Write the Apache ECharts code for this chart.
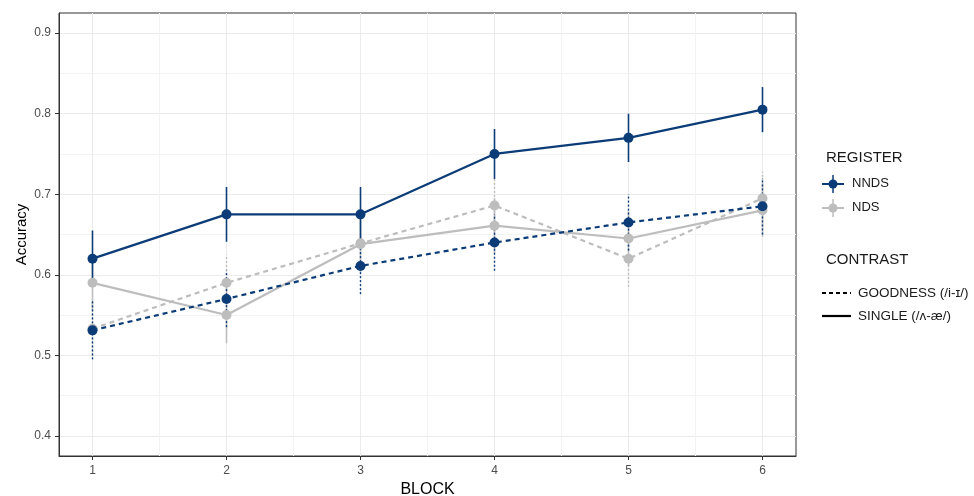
<!DOCTYPE html>
<html>
<head>
<meta charset="utf-8">
<script src="https://cdn.jsdelivr.net/npm/echarts@6/dist/echarts.min.js"></script>
<style>
html,body{margin:0;padding:0;background:#fff;}
#chart{width:974px;height:496px;}
</style>
</head>
<body>
<div id="chart"></div>
<script>
// ---- data ----
var blocks = [1, 2, 3, 4, 5, 6];
var xTicks = [1, 2, 3, 4, 5, 6];
var xMinor = [1.5, 2.5, 3.5, 4.5, 5.5];
var yTicks = [0.4, 0.5, 0.6, 0.7, 0.8, 0.9];
var yMinor = [0.45, 0.55, 0.65, 0.75, 0.85];

var nndsSingle      = [0.620, 0.675, 0.675, 0.750, 0.770, 0.805];
var nndsSingleErr   = [0.035, 0.034, 0.034, 0.031, 0.030, 0.028];
var nndsGoodness    = [0.531, 0.570, 0.611, 0.640, 0.665, 0.685];
var nndsGoodnessErr = [0.036, 0.035, 0.035, 0.035, 0.035, 0.035];
var ndsSingle       = [0.590, 0.550, 0.638, 0.661, 0.645, 0.680];
var ndsSingleErr    = [0.034, 0.035, 0.035, 0.034, 0.034, 0.033];
var ndsGoodness     = [0.533, 0.590, 0.639, 0.686, 0.620, 0.695];
var ndsGoodnessErr  = [0.034, 0.035, 0.035, 0.034, 0.035, 0.033];

var NAVY = '#0b3c78';
var GREY = '#bdbdbd';

function pts(vals) { return blocks.map(function (b, i) { return [b, vals[i]]; }); }

function errSeries(name, vals, errs, color, dotted) {
  return {
    type: 'custom', name: name, z: 2, silent: true,
    data: blocks.map(function (b, i) { return [b, vals[i] - errs[i], vals[i] + errs[i]]; }),
    encode: { x: 0, y: [1, 2] },
    renderItem: function (params, api) {
      var p1 = api.coord([api.value(0), api.value(1)]);
      var p2 = api.coord([api.value(0), api.value(2)]);
      return {
        type: 'line',
        shape: { x1: p1[0], y1: p1[1], x2: p2[0], y2: p2[1] },
        style: { stroke: color, lineWidth: dotted ? 1.4 : 1.6, lineDash: dotted ? [2, 2] : null }
      };
    }
  };
}

function lineSeries(name, vals, color, dashed) {
  return {
    type: 'line', name: name, data: pts(vals), z: 3,
    symbol: 'circle', symbolSize: 10, showSymbol: true,
    itemStyle: { color: color },
    lineStyle: { color: color, width: 2.2, type: dashed ? [5, 4] : 'solid' },
    emphasis: { disabled: true }
  };
}

var chart = echarts.init(document.getElementById('chart'), null, { renderer: 'canvas' });

var FONT = 'Liberation Sans, Arial, sans-serif';
var leg = [];
leg.push({ type: 'text', left: 826, top: 150, style: { text: 'REGISTER', font: '15px ' + FONT, fill: '#1a1a1a' } });
[[184, NAVY, 'NNDS'], [208, GREY, 'NDS']].forEach(function (r) {
  leg.push({ type: 'line', shape: { x1: 822, y1: r[0], x2: 844, y2: r[0] }, style: { stroke: r[1], lineWidth: 2 } });
  leg.push({ type: 'line', shape: { x1: 833, y1: r[0] - 9, x2: 833, y2: r[0] + 9 }, style: { stroke: r[1], lineWidth: 1.5 } });
  leg.push({ type: 'circle', shape: { cx: 833, cy: r[0], r: 4.5 }, style: { fill: r[1] } });
  leg.push({ type: 'text', left: 852, top: r[0] - 7, style: { text: r[2], font: '13px ' + FONT, fill: '#1a1a1a' } });
});
leg.push({ type: 'text', left: 826, top: 252, style: { text: 'CONTRAST', font: '15px ' + FONT, fill: '#1a1a1a' } });
leg.push({ type: 'line', shape: { x1: 822, y1: 293, x2: 851, y2: 293 }, style: { stroke: '#000', lineWidth: 2.2, lineDash: [4, 3] } });
leg.push({ type: 'text', left: 858, top: 286, style: { text: 'GOODNESS (/i-ɪ/)', font: '13.5px ' + FONT, fill: '#1a1a1a' } });
leg.push({ type: 'line', shape: { x1: 822, y1: 316, x2: 851, y2: 316 }, style: { stroke: '#000', lineWidth: 2.2 } });
leg.push({ type: 'text', left: 858, top: 309, style: { text: 'SINGLE (/ʌ-æ/)', font: '13.5px ' + FONT, fill: '#1a1a1a' } });

var option = {
  animation: false,
  backgroundColor: '#fff',
  textStyle: { fontFamily: FONT },
  grid: { left: 59, right: 178, top: 13, bottom: 40, outerBoundsMode: 'none', containLabel: false,
    show: true, borderColor: '#333', borderWidth: 1, backgroundColor: 'transparent' },
  xAxis: [{
    type: 'value', min: 0.75, max: 6.25,
    name: 'BLOCK', nameLocation: 'middle', nameGap: 24,
    nameTextStyle: { fontSize: 16, color: '#000', fontFamily: FONT },
    axisLine: { show: true, onZero: false, lineStyle: { color: '#333' } },
    axisTick: { show: true, length: 4, customValues: xTicks, lineStyle: { color: '#333' } },
    axisLabel: { customValues: xTicks, color: '#4d4d4d', fontSize: 12, margin: 9, fontFamily: FONT },
    splitLine: { show: true, lineStyle: { color: '#ebebeb', width: 1 } }
  }, {
    type: 'value', min: 0.75, max: 6.25, position: 'top',
    axisLine: { show: false }, axisLabel: { show: false },
    axisTick: { show: false, customValues: xMinor },
    splitLine: { show: true, lineStyle: { color: '#f3f3f3', width: 1 } }
  }],
  yAxis: [{
    type: 'value', min: 0.375, max: 0.925,
    name: 'Accuracy', nameLocation: 'middle', nameGap: 30, nameRotate: 90, nameMoveOverlap: false,
    nameTextStyle: { fontSize: 15, color: '#000', fontFamily: FONT },
    axisLine: { show: true, onZero: false, lineStyle: { color: '#333' } },
    axisTick: { show: true, length: 4, customValues: yTicks, lineStyle: { color: '#333' } },
    axisLabel: { customValues: yTicks, color: '#4d4d4d', fontSize: 12, margin: 8, fontFamily: FONT,
      formatter: function (v) { return v.toFixed(1); } },
    splitLine: { show: true, lineStyle: { color: '#ebebeb', width: 1 } }
  }, {
    type: 'value', min: 0.375, max: 0.925, position: 'right',
    axisLine: { show: false }, axisLabel: { show: false },
    axisTick: { show: false, customValues: yMinor },
    splitLine: { show: true, lineStyle: { color: '#f3f3f3', width: 1 } }
  }],
  series: [
    errSeries('NDS GOODNESS err', ndsGoodness, ndsGoodnessErr, GREY, true),
    errSeries('NDS SINGLE err', ndsSingle, ndsSingleErr, GREY, false),
    errSeries('NNDS GOODNESS err', nndsGoodness, nndsGoodnessErr, NAVY, true),
    errSeries('NNDS SINGLE err', nndsSingle, nndsSingleErr, NAVY, false),
    lineSeries('NDS GOODNESS', ndsGoodness, GREY, true),
    lineSeries('NDS SINGLE', ndsSingle, GREY, false),
    lineSeries('NNDS GOODNESS', nndsGoodness, NAVY, true),
    lineSeries('NNDS SINGLE', nndsSingle, NAVY, false)
  ],
  graphic: leg
};
chart.setOption(option);
</script>
</body>
</html>
